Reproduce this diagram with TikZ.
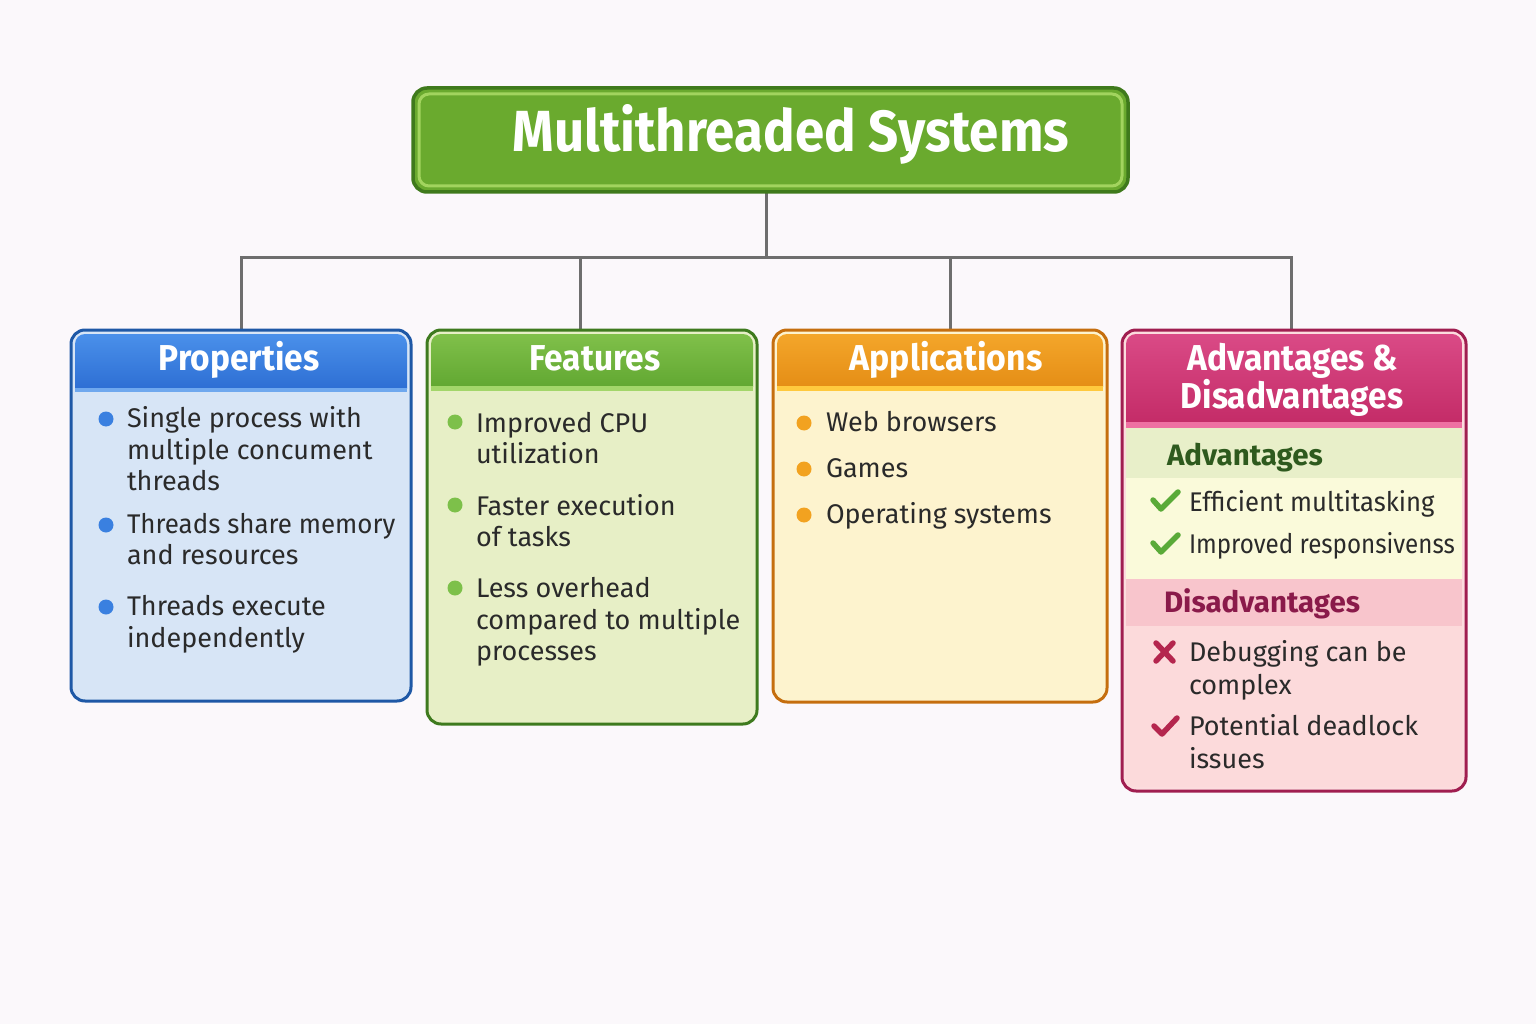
\documentclass[tikz,border=0pt]{standalone}
\usepackage{fontspec}
\usepackage{pdfrender}
\setmainfont{Fira Sans}
\definecolor{bg}{HTML}{FBF8FB}
\definecolor{linegray}{HTML}{6E6E6E}
\definecolor{txt}{HTML}{2A2A2A}
\definecolor{tdark}{HTML}{3F7A1C}
\definecolor{tgreen}{HTML}{6AAA2E}
\definecolor{tlight}{HTML}{A2D45E}
\definecolor{pborder}{HTML}{1E58A6}
\definecolor{pfill}{HTML}{D7E5F6}
\definecolor{phtop}{HTML}{4A90EA}
\definecolor{phbot}{HTML}{2E6FD4}
\definecolor{pstripe}{HTML}{6FA8EE}
\definecolor{pdot}{HTML}{3A80E0}
\definecolor{fborder}{HTML}{3E7A1E}
\definecolor{ffill}{HTML}{E7EFC6}
\definecolor{fhtop}{HTML}{80C04A}
\definecolor{fhbot}{HTML}{62A832}
\definecolor{fstripe}{HTML}{A3D66A}
\definecolor{fdot}{HTML}{7DC04A}
\definecolor{aborder}{HTML}{C56E0E}
\definecolor{afill}{HTML}{FDF3CE}
\definecolor{ahtop}{HTML}{F4A62A}
\definecolor{ahbot}{HTML}{E58E16}
\definecolor{astripe}{HTML}{FFC93E}
\definecolor{adot}{HTML}{F2A220}
\definecolor{dborder}{HTML}{A01E50}
\definecolor{dfill}{HTML}{FCDCDE}
\definecolor{dhtop}{HTML}{DA4A86}
\definecolor{dhbot}{HTML}{C42C68}
\definecolor{dstripe}{HTML}{EE70A2}
\definecolor{advband}{HTML}{E8EFC9}
\definecolor{advfill}{HTML}{FAFADA}
\definecolor{disband}{HTML}{F8C5CC}
\definecolor{disfill}{HTML}{FCDADB}
\definecolor{advtxt}{HTML}{2E5A1E}
\definecolor{distxt}{HTML}{8A1A4A}
\definecolor{chk}{HTML}{5AAA38}
\definecolor{crim}{HTML}{B4264E}
\definecolor{outl}{HTML}{2A3A22}
\newcommand{\outtext}[2]{\textpdfrender{TextRenderingMode=FillStroke,LineWidth=#1,StrokeColor=outl,FillColor=white}{#2}}
\begin{document}
\begin{tikzpicture}[x=1pt,y=-1pt,
  every node/.style={inner sep=0pt,outer sep=0pt},
  body/.style={font=\fontsize{27}{30}\selectfont,text=txt,anchor=base west},
  hdr/.style={font=\fontsize{36}{40}\selectfont\bfseries,text=white,anchor=base},
  sub/.style={font=\fontsize{29.5}{32}\selectfont\bfseries,anchor=base west},
  conn/.style={draw=linegray,line width=3pt},
  card/.style={line width=3pt,rounded corners=14pt},
  dot/.style={circle,minimum size=15pt},
  tick/.style={line width=5.5pt,line cap=round,line join=round}
]
\useasboundingbox[fill=bg] (0,0) rectangle (1536,1024);

% ---------- connectors ----------
\node[minimum width=715pt,minimum height=104pt] (title) at (770.5,140) {};
\node[minimum width=340pt,minimum height=371pt] (prop) at (241,515.5) {};
\node[minimum width=330pt,minimum height=394pt] (feat) at (592,527) {};
\node[minimum width=334pt,minimum height=372pt] (appl) at (940,516) {};
\node[minimum width=344pt,minimum height=461pt] (advd) at (1294,560.5) {};
\coordinate (hub) at (766,258);
\draw[conn] ([xshift=-4.5pt]title.south) -- (hub);
\draw[conn] (hub) -| (prop.north);
\draw[conn] (hub) -| ([xshift=-12pt]feat.north);
\draw[conn] (hub) -| ([xshift=10pt]appl.north);
\draw[conn] (hub) -| ([xshift=-3pt]advd.north);

% ---------- title ----------
\draw[card,draw=tdark,fill=tgreen,line width=3.5pt] (title.north west) rectangle (title.south east);
\draw[tlight,line width=3pt,rounded corners=10pt] (419,94) rectangle (1122,186);
\node[font=\fontsize{58}{60}\selectfont\bfseries,text=white,anchor=base] (ttext) at (791,152) {\scalebox{0.91}[1]{\outtext{1.6}{Multithreaded Systems}}};

% ---------- Properties ----------
\draw[card,draw=pborder,fill=pfill] (prop.north west) rectangle (prop.south east);
\begin{scope}
  \clip[rounded corners=10pt] (75,334) rectangle (407,697);
  \shade[top color=phtop,bottom color=phbot] (75,334) rectangle (407,388);
  \fill[pstripe] (75,388) rectangle (407,392);
\end{scope}
\node[hdr] (ph) at (239,370) {\scalebox{0.93}[1]{\outtext{0.8}{Properties}}};
\node[dot,fill=pdot] (pd1) at (106,419) {};
\node[dot,fill=pdot] (pd2) at (106,525) {};
\node[dot,fill=pdot] (pd3) at (106,607) {};
\node[body] (p1a) at (127,427) {Single process with};
\node[body] (p1b) at (127,459) {multiple concument};
\node[body] (p1c) at (127,490) {threads};
\node[body] (p2a) at (127,533) {\scalebox{0.96}[1]{Threads share memory}};
\node[body] (p2b) at (127,564) {and resources};
\node[body] (p3a) at (127,615) {Threads execute};
\node[body] (p3b) at (127,647) {independently};

% ---------- Features ----------
\draw[card,draw=fborder,fill=ffill] (feat.north west) rectangle (feat.south east);
\begin{scope}
  \clip[rounded corners=10pt] (431,334) rectangle (753,720);
  \shade[top color=fhtop,bottom color=fhbot] (431,334) rectangle (753,386);
  \fill[fstripe] (431,386) rectangle (753,391);
\end{scope}
\node[hdr] (fh) at (595,370) {\scalebox{0.93}[1]{\outtext{0.8}{Features}}};
\node[dot,fill=fdot] (fd1) at (455,422) {};
\node[dot,fill=fdot] (fd2) at (455,505) {};
\node[dot,fill=fdot] (fd3) at (455,588) {};
\node[body] (f1a) at (476,432) {Improved CPU};
\node[body] (f1b) at (476,463) {utilization};
\node[body] (f2a) at (476,515) {Faster execution};
\node[body] (f2b) at (476,546) {of tasks};
\node[body] (f3a) at (476,597) {Less overhead};
\node[body] (f3b) at (476,629) {compared to multiple};
\node[body] (f3c) at (476,660) {processes};

% ---------- Applications ----------
\draw[card,draw=aborder,fill=afill] (appl.north west) rectangle (appl.south east);
\begin{scope}
  \clip[rounded corners=10pt] (777,334) rectangle (1103,698);
  \shade[top color=ahtop,bottom color=ahbot] (777,334) rectangle (1103,386);
  \fill[astripe] (777,386) rectangle (1103,391);
\end{scope}
\node[hdr] (ah) at (946,370) {\scalebox{0.94}[1]{\outtext{0.8}{Applications}}};
\node[dot,fill=adot] (ad1) at (804,423) {};
\node[dot,fill=adot] (ad2) at (804,469) {};
\node[dot,fill=adot] (ad3) at (804,515) {};
\node[body] (a1) at (826,431) {Web browsers};
\node[body] (a2) at (826,477) {Games};
\node[body] (a3) at (826,523) {Operating systems};

% ---------- Advantages & Disadvantages ----------
\draw[card,draw=dborder,fill=dfill] (advd.north west) rectangle (advd.south east);
\begin{scope}
  \clip[rounded corners=10pt] (1126,334) rectangle (1462,787);
  \shade[top color=dhtop,bottom color=dhbot] (1126,334) rectangle (1462,422);
  \fill[dstripe] (1126,422) rectangle (1462,428);
  \fill[advband] (1126,428) rectangle (1462,478);
  \fill[advfill] (1126,478) rectangle (1462,579);
  \fill[disband] (1126,579) rectangle (1462,626);
  \fill[disfill] (1126,626) rectangle (1462,787);
\end{scope}
\node[hdr] (dh1) at (1293,370) {\scalebox{0.93}[1]{\outtext{0.8}{Advantages \&}}};
\node[hdr] (dh2) at (1292,408) {\scalebox{0.93}[1]{\outtext{0.8}{Disadvantages}}};
\node[sub,text=advtxt] (advh) at (1167,465) {Advantages};
\node[sub,text=distxt] (dish) at (1164,612) {Disadvantages};
\draw[tick,draw=chk] (1153,500) -- (1161,509) -- (1178,492);
\draw[tick,draw=chk] (1153,543) -- (1161,552) -- (1178,535);
\node[body] (v1) at (1189,511) {\scalebox{0.95}[1]{Efficient multitasking}};
\node[body] (v2) at (1189,553) {\scalebox{0.895}[1]{Improved responsivenss}};
\draw[tick,draw=crim] (1156,643) -- (1173,661);
\draw[tick,draw=crim] (1156,661) -- (1173,643);
\draw[tick,draw=crim] (1154,726) -- (1162,734) -- (1177,718);
\node[body] (x1a) at (1189,661) {Debugging can be};
\node[body] (x1b) at (1189,694) {complex};
\node[body] (x2a) at (1189,735) {Potential deadlock};
\node[body] (x2b) at (1189,768) {issues};
\end{tikzpicture}
\end{document}
